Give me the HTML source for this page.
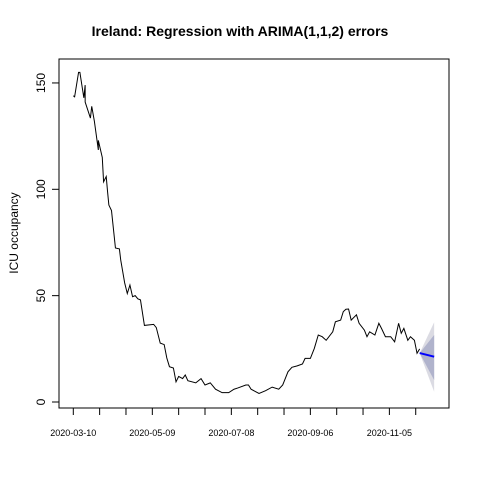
<!DOCTYPE html>
<html><head><meta charset="utf-8"><style>
body{margin:0;background:#fff}
svg{display:block;font-family:"Liberation Sans",Arial,sans-serif}
</style></head><body>
<svg id="chart" width="480" height="480">
<rect width="480" height="480" fill="#fff"/>
<text x="240" y="36" text-anchor="middle" font-size="14" font-weight="bold">Ireland: Regression with ARIMA(1,1,2) errors</text>
<text transform="translate(18,233) rotate(-90)" text-anchor="middle" font-size="12">ICU occupancy</text>
<g id="bands"></g><g id="lines"></g><g id="axes"></g>
<rect x="59" y="59" width="390" height="349" fill="none" stroke="#000"/>
</svg>
<script>
const days=[0,1,4,5,8,9,9,13,14,16,19,19,22,23,25,26,27,29,32,35,36,39,41,43,45,47,49,51,54,61,63,66,69,71,73,76,78,80,83,85,87,93,97,100,104,108,113,118,122,125,131,133,135,141,146,151,156,159,163,166,170,174,176,180,183,186,189,192,197,199,203,205,207,209,211,215,217,221,223,225,229,232,234,237,241,244,247,249,251,254,256,259,261,263];
const values=[144,143.5,155,155,143,149,141,133.5,139,132,118.5,123,115,103.5,106,99,92.6,90,72.4,72,66.8,56,51,55,49.5,50,48.5,48,36,36.5,35,27.7,27,20.7,16.6,16,9.5,12,11,12.7,10,9,11,8,9,6,4.4,4.4,6,6.6,8,8,6,4,5.3,7,6,8,14.2,16.3,17,17.9,20.5,20.5,25.2,31.5,30.7,29,33,37.7,38.5,42.5,43.6,43.7,38.5,41,37,33.8,30.7,33,31.5,37,34.6,30.7,30.7,28.3,37,32.3,34.6,29,30.7,29,22.9,25];
const fcDays=[263,274];
const fcMean=[23,21.3];
const lo80=[23,10.3], hi80=[23,31.5];
const lo95=[23,4.8], hi95=[23,37.5];
const yTicks=[0,50,100,150];
const xTicks=[0,20,40,60,80,100,120,140,160,180,200,220,240,260];
const xLabelDays=[0,60,120,180,240];
const xLabels=["2020-03-10","2020-05-09","2020-07-08","2020-09-06","2020-11-05"];
const X=d=>73.3+d*1.317, Y=v=>402-v*2.127;
const NS="http://www.w3.org/2000/svg";
function mk(tag,attrs,parent){const e=document.createElementNS(NS,tag);for(const k in attrs)e.setAttribute(k,attrs[k]);document.getElementById(parent).appendChild(e);return e;}
function band(lo,hi){let p=fcDays.map((d,i)=>X(d)+","+Y(hi[i]));p=p.concat(fcDays.map((d,i)=>X(d)+","+Y(lo[i])).reverse());return p.join(" ");}
let b95=mk("polygon",{points:band(lo95,hi95),fill:"#dbdbe3"},"bands");


let b80=mk("polygon",{points:band(lo80,hi80),fill:"#b0b3cc"},"bands");


let ln=mk("polyline",{points:days.map((d,i)=>X(d)+","+Y(values[i])).join(" "),fill:"none",stroke:"#000","stroke-width":1},"lines");


let fl=mk("polyline",{points:fcDays.map((d,i)=>X(d)+","+Y(fcMean[i])).join(" "),fill:"none",stroke:"#0000ff","stroke-width":2},"lines");


yTicks.forEach(v=>{
 let t=mk("line",{x1:52,x2:59,y1:Y(v),y2:Y(v),stroke:"#000"},"axes");
 
 
 let l=mk("text",{transform:`translate(45,${Y(v)}) rotate(-90)`,"text-anchor":"middle","font-size":12},"axes");
 l.textContent=v;
 
 
});
let yl=mk("line",{x1:59,x2:59,y1:Y(0),y2:Y(150),stroke:"#000"},"axes");


xTicks.forEach(d=>{
 let t=mk("line",{x1:X(d),x2:X(d),y1:408,y2:415,stroke:"#000"},"axes");
 
 
});
let xl=mk("line",{x1:X(0),x2:X(260),y1:408,y2:408,stroke:"#000"},"axes");


xLabelDays.forEach((d,i)=>{
 let l=mk("text",{x:X(d),y:436,"text-anchor":"middle","font-size":9},"axes");
 l.textContent=xLabels[i];
 
 
});
</script>
</body></html>
